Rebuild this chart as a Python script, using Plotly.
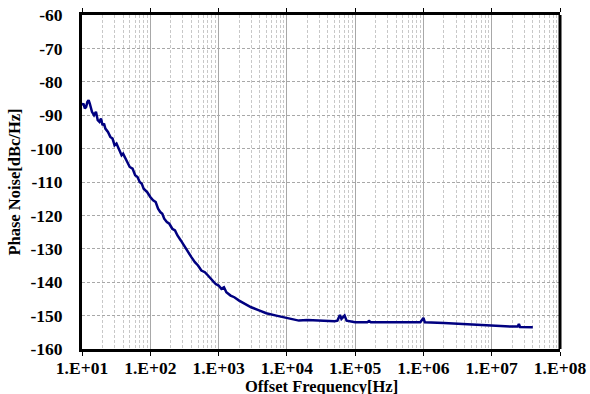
import plotly.graph_objects as go

freq_hz = [10, 10.5, 11, 11.5, 12, 12.5, 13, 14, 15, 16, 17, 18, 19, 20, 21, 22, 24, 26, 28, 30,
           32, 35, 38, 40, 43, 46, 50, 55, 60, 65, 70, 75, 80, 90, 100, 110, 120, 130, 140, 150,
           160, 175, 190, 210, 230, 250, 280, 320, 360, 400, 450, 500, 560, 630, 700, 800, 900,
           1000, 1100, 1200, 1300, 1500, 1700, 2000, 2500, 3000, 4000, 5000, 7000, 10000, 13000,
           15000, 20000, 30000, 40000, 50000, 55000, 60000, 63000, 66000, 70000, 75000, 90000,
           100000, 150000, 160000, 170000, 300000, 500000, 900000, 1000000, 1050000, 2000000,
           5000000, 10000000, 20000000, 24000000, 25000000, 26000000, 30000000, 40000000]
phase_noise = [-87, -86.5, -88, -87.5, -86, -85.5, -86.5, -89, -90, -89, -91.5, -92, -91, -93,
               -92.5, -94, -95, -96.5, -97, -99, -98.5, -100.5, -102, -101.5, -103, -104, -105.5,
               -106, -108, -108.5, -110, -110.5, -112, -113, -114.5, -115.5, -116, -118, -119,
               -119.5, -121, -122, -122.5, -124, -124.5, -126, -127.5, -129.5, -131, -132.5, -134,
               -135, -136.5, -137, -138, -139.5, -140.5, -141, -142, -141.5, -143, -144, -144.5,
               -145.5, -146.5, -147.5, -148.5, -149.3, -150, -150.7, -151, -151.5, -151.3, -151.5,
               -151.6, -151.7, -151.5, -149.8, -151, -150.5, -150, -151.5, -151.8, -152, -152,
               -151.6, -152, -152, -152, -152, -150.7, -152, -152.2, -152.7, -153, -153.3, -153.3,
               -152.5, -153.4, -153.5, -153.5]

x_tickvals = [1e1, 1e2, 1e3, 1e4, 1e5, 1e6, 1e7, 1e8]
x_ticktext = ["1.E+01", "1.E+02", "1.E+03", "1.E+04", "1.E+05", "1.E+06", "1.E+07", "1.E+08"]
y_tickvals = [-60, -70, -80, -90, -100, -110, -120, -130, -140, -150, -160]
x_title = "Offset Frequency[Hz]"
y_title = "Phase Noise[dBc/Hz]"

font_family = "Liberation Serif"
tick_font = dict(family=font_family, size=17.5, color="black")
title_font = dict(family=font_family, size=16.5, color="black")

fig = go.Figure()
fig.add_trace(go.Scatter(x=freq_hz, y=phase_noise, mode="lines",
                         line=dict(color="#000080", width=2.5), showlegend=False))

fig.update_layout(
    width=590, height=394,
    margin=dict(l=82, r=30, t=15, b=45, autoexpand=False),
    paper_bgcolor="white", plot_bgcolor="white",
    font=dict(family=font_family, size=16, color="black"),
    shapes=[
        dict(type="line", xref="paper", yref="paper", x0=1, x1=1, y0=0, y1=1,
             line=dict(color="black", width=3)),
    ],
    annotations=[
        dict(text="<b>%s</b>" % x_title, xref="paper", yref="paper", x=0.5, y=-0.111,
             xanchor="center", yanchor="middle", showarrow=False, font=title_font),
    ],
)
fig.update_xaxes(
    type="log", range=[1, 8], automargin=False,
    tickvals=x_tickvals, ticktext=["<b>%s</b>" % t for t in x_ticktext], tickfont=tick_font,
    showgrid=True, gridcolor="#a8a8a8", gridwidth=1,
    minor=dict(dtick="D1", showgrid=True, gridcolor="#c8c8c8", griddash="3px,2px", gridwidth=1),
    showline=True, linecolor="black", linewidth=2.5, mirror="ticks",
    ticks="outside", ticklen=4, tickcolor="black", tickwidth=1,
    ticklabelstandoff=-3,
    zeroline=False,
)
fig.update_yaxes(
    range=[-160, -60], tickvals=y_tickvals, automargin=False,
    ticktext=["<b>%d</b>" % v for v in y_tickvals], tickfont=tick_font,
    showgrid=True, gridcolor="#a8a8a8", griddash="3px,2px", gridwidth=1,
    showline=True, linecolor="black", linewidth=3, mirror=False,
    ticks="", ticklabelstandoff=13,
    title=dict(text="<b>%s</b>" % y_title, standoff=6, font=title_font),
    zeroline=False,
)

fig.write_html("out.html")
